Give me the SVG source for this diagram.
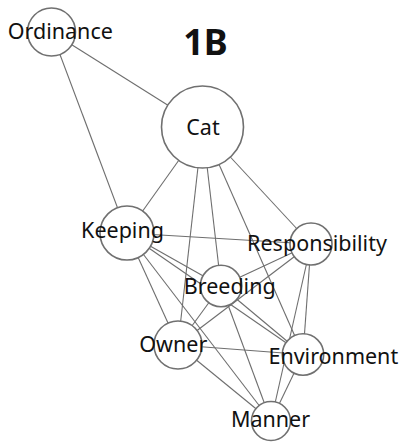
<svg xmlns="http://www.w3.org/2000/svg" width="403" height="442" viewBox="0 0 403 442">
<style>
.edge{stroke:#6e6e6e;stroke-width:1.1;fill:none}
.node circle{fill:#fff;stroke:#707070;stroke-width:1.6}
.node text{font-family:"Noto Sans","DejaVu Sans",sans-serif;font-size:21.5px;fill:#111;text-anchor:middle}
.title{font-family:"Noto Sans","DejaVu Sans",sans-serif;font-size:36px;font-weight:bold;fill:#111;text-anchor:middle}
</style>
<rect width="403" height="442" fill="#fff"/>
<text class="title" x="205.5" y="55">1B</text>
<g id="connectors">
<line class="edge" x1="51.5" y1="32" x2="202.5" y2="127"/>
<line class="edge" x1="51.5" y1="32" x2="127" y2="233"/>
<line class="edge" x1="202.5" y1="127" x2="127" y2="233"/>
<line class="edge" x1="202.5" y1="127" x2="178" y2="345"/>
<line class="edge" x1="202.5" y1="127" x2="221" y2="286"/>
<line class="edge" x1="202.5" y1="127" x2="303" y2="354.5"/>
<line class="edge" x1="202.5" y1="127" x2="311" y2="244"/>
<line class="edge" x1="127" y1="233" x2="311" y2="244"/>
<line class="edge" x1="127" y1="233" x2="221" y2="286"/>
<line class="edge" x1="127" y1="233" x2="178" y2="345"/>
<line class="edge" x1="127" y1="233" x2="303" y2="354.5"/>
<line class="edge" x1="127" y1="233" x2="271" y2="421"/>
<line class="edge" x1="221" y1="286" x2="311" y2="244"/>
<line class="edge" x1="221" y1="286" x2="178" y2="345"/>
<line class="edge" x1="221" y1="286" x2="303" y2="354.5"/>
<line class="edge" x1="221" y1="286" x2="271" y2="421"/>
<line class="edge" x1="178" y1="345" x2="311" y2="244"/>
<line class="edge" x1="178" y1="345" x2="303" y2="354.5"/>
<line class="edge" x1="178" y1="345" x2="271" y2="421"/>
<line class="edge" x1="311" y1="244" x2="303" y2="354.5"/>
<line class="edge" x1="311" y1="244" x2="271" y2="421"/>
<line class="edge" x1="303" y1="354.5" x2="271" y2="421"/>
</g>
<g id="node-ordinance" class="node"><circle cx="51.5" cy="32" r="24"/></g>
<g id="node-cat" class="node"><circle cx="202.5" cy="127" r="41"/></g>
<g id="node-keeping" class="node"><circle cx="127" cy="233" r="27"/></g>
<g id="node-responsibility" class="node"><circle cx="311" cy="244" r="21"/></g>
<g id="node-breeding" class="node"><circle cx="221" cy="286" r="20.7"/></g>
<g id="node-owner" class="node"><circle cx="178" cy="345" r="24"/></g>
<g id="node-environment" class="node"><circle cx="303" cy="354.5" r="20.7"/></g>
<g id="node-manner" class="node"><circle cx="271" cy="421" r="19.5"/></g>
<g id="labels" class="node">
<text x="60.3" y="39.3">Ordinance</text>
<text x="203" y="135">Cat</text>
<text x="122.5" y="238">Keeping</text>
<text x="317" y="250.5">Responsibility</text>
<text x="229.7" y="294.3">Breeding</text>
<text x="173.3" y="352.3">Owner</text>
<text x="333.3" y="364">Environment</text>
<text x="270.5" y="427.3">Manner</text>
</g>
</svg>
